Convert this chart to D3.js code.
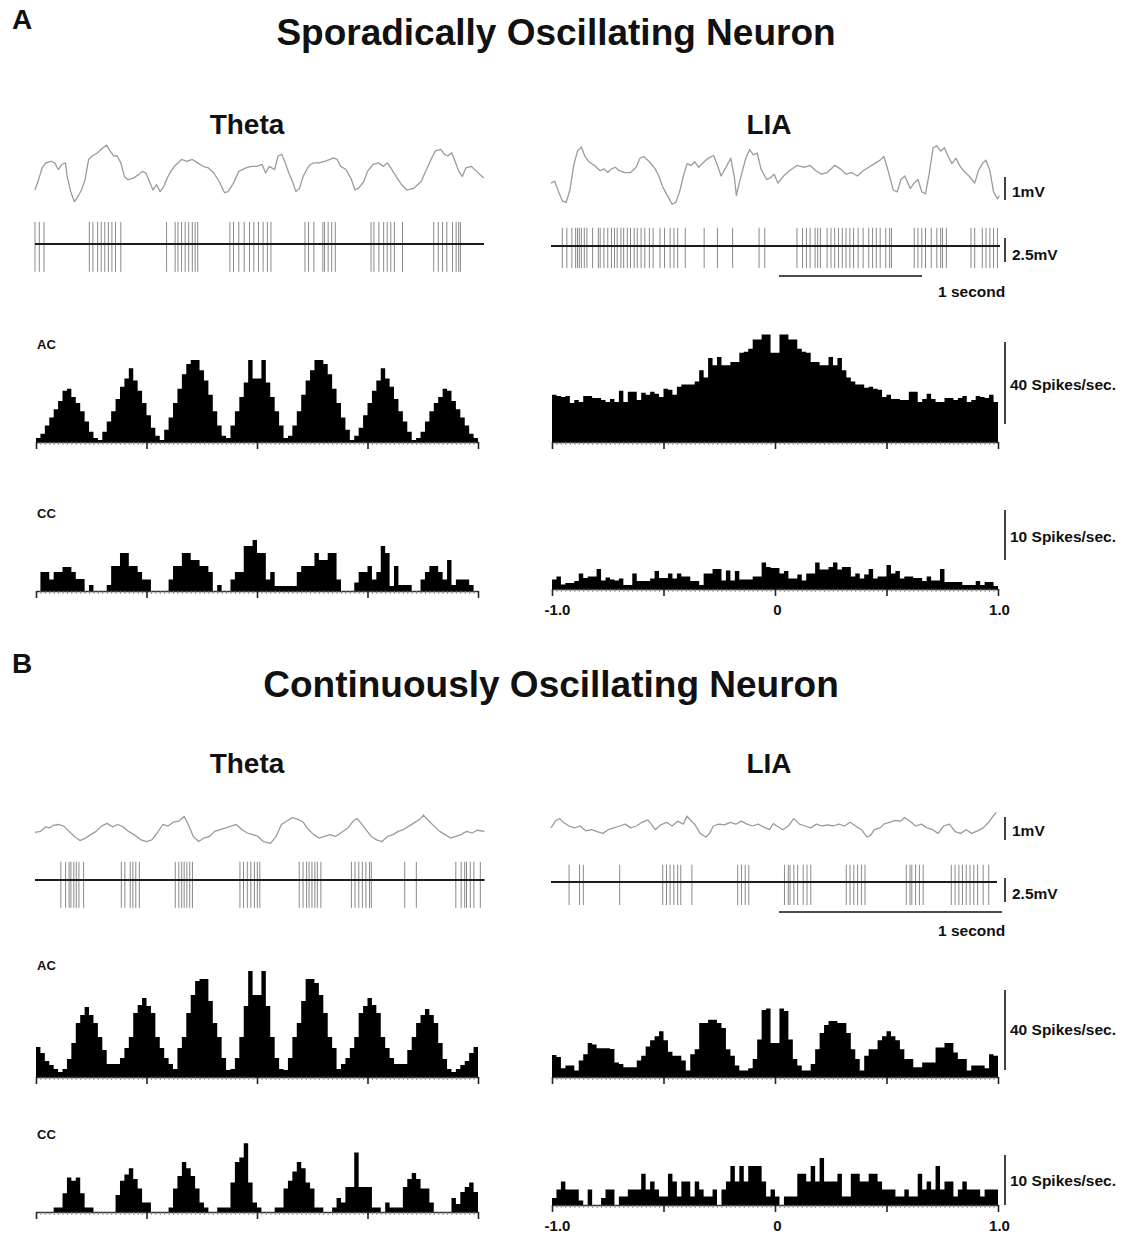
<!DOCTYPE html>
<html><head><meta charset="utf-8">
<script src="https://cdn.jsdelivr.net/npm/d3@7"></script>
<style>
body{margin:0;background:#fff;}
svg text{font-family:"Liberation Sans",Arial,Helvetica,sans-serif;font-weight:bold;fill:#111;}
</style></head><body>
<script>
// ---------- Panel A: sporadically oscillating neuron ----------
// field potential traces: [time (s), voltage (mV)]
const lfpThetaA = [[0,-0.74],[0.025,-0.29],[0.05,0.22],[0.075,0.44],[0.113,0.51],[0.138,0.44],[0.163,0.15],[0.188,0.37],[0.213,0.44],[0.225,-0.15],[0.25,-0.81],[0.275,-1.25],[0.3,-1.03],[0.325,-0.74],[0.35,-0.29],[0.375,0.59],[0.4,0.74],[0.438,0.88],[0.475,1.1],[0.5,1.21],[0.525,0.96],[0.55,0.74],[0.575,0.74],[0.6,0.44],[0.625,-0.15],[0.65,-0.29],[0.688,-0.22],[0.725,-0.07],[0.75,0.07],[0.775,0],[0.8,-0.37],[0.825,-0.74],[0.85,-0.51],[0.875,-0.81],[0.9,-0.59],[0.925,-0.22],[0.95,0.07],[0.975,0.29],[1.025,0.59],[1.063,0.51],[1.1,0.59],[1.138,0.44],[1.175,0.29],[1.213,0.22],[1.25,0],[1.288,-0.37],[1.325,-0.85],[1.35,-0.81],[1.388,-0.44],[1.425,0.07],[1.475,0.22],[1.513,0.29],[1.55,0.29],[1.588,0.37],[1.613,0],[1.638,0.29],[1.675,0.15],[1.7,0.74],[1.725,0.81],[1.75,0.44],[1.775,0],[1.8,-0.37],[1.825,-0.81],[1.85,-0.66],[1.875,-0.15],[1.9,0.15],[1.925,0.37],[1.95,0.44],[1.988,0.44],[2.025,0.51],[2.063,0.59],[2.088,0.66],[2.113,0.59],[2.138,0.29],[2.175,0.15],[2.213,-0.29],[2.238,-0.74],[2.263,-0.66],[2.3,-0.37],[2.325,0.07],[2.363,0.37],[2.4,0.44],[2.438,0.29],[2.463,0.44],[2.488,0.22],[2.525,-0.15],[2.563,-0.51],[2.6,-0.74],[2.65,-0.66],[2.7,-0.37],[2.738,0.15],[2.775,0.66],[2.8,0.96],[2.838,1.03],[2.863,0.81],[2.888,0.74],[2.913,0.88],[2.938,0.51],[2.963,0.07],[2.988,-0.15],[3.013,0.22],[3.05,0.29],[3.088,0.07],[3.138,-0.22]];
const lfpLIAA = [[0,-0.31],[0.026,-0.23],[0.053,-0.69],[0.079,-1.08],[0.106,-1.15],[0.132,-0.62],[0.159,0.46],[0.185,1.08],[0.212,1.26],[0.238,0.85],[0.265,0.62],[0.304,0.46],[0.344,0.23],[0.37,0.31],[0.397,0.15],[0.423,0.31],[0.45,0.38],[0.476,0.23],[0.516,0.15],[0.556,0.15],[0.595,0.38],[0.622,0.77],[0.648,0.85],[0.688,0.62],[0.728,0.31],[0.754,0],[0.78,-0.46],[0.82,-0.92],[0.847,-1.23],[0.873,-1.15],[0.899,-0.69],[0.926,0],[0.952,0.54],[0.979,0.46],[1.005,0.62],[1.032,0.38],[1.058,0.54],[1.098,0.77],[1.138,0.89],[1.164,0.46],[1.19,0],[1.217,0.31],[1.257,0.77],[1.283,-0.08],[1.296,-0.85],[1.323,-0.15],[1.362,0.77],[1.389,1.15],[1.415,0.92],[1.442,1.0],[1.468,0.31],[1.508,-0.15],[1.534,-0.08],[1.561,0.08],[1.587,-0.31],[1.627,0],[1.667,0.23],[1.72,0.46],[1.772,0.38],[1.812,0.46],[1.852,0.23],[1.892,0.08],[1.931,0.15],[1.984,0.46],[2.024,0.31],[2.063,0.08],[2.103,0.15],[2.143,0],[2.183,0.23],[2.222,0.38],[2.262,0.54],[2.302,0.69],[2.328,0.85],[2.354,0.31],[2.394,-0.62],[2.421,-0.69],[2.447,-0.15],[2.474,0],[2.513,-0.54],[2.54,-0.31],[2.566,-0.15],[2.593,-0.69],[2.619,-0.77],[2.646,0.15],[2.672,1.23],[2.698,1.31],[2.725,1.08],[2.751,1.23],[2.778,0.85],[2.804,0.54],[2.831,0.77],[2.857,0.46],[2.884,0.23],[2.923,0],[2.963,-0.31],[2.989,0.23],[3.016,0.54],[3.042,0.69],[3.069,0.23],[3.095,-0.69],[3.122,-1.0],[3.135,-0.85]];
// unit spike times (s)
const spikesThetaA = [0,0.03,0.063,0.38,0.405,0.438,0.463,0.488,0.513,0.538,0.563,0.6,0.92,0.98,1.0,1.025,1.05,1.075,1.1,1.12,1.138,1.363,1.388,1.425,1.463,1.5,1.53,1.563,1.595,1.625,1.65,1.888,1.913,1.95,2.013,2.025,2.05,2.075,2.1,2.35,2.37,2.405,2.438,2.463,2.488,2.513,2.57,2.788,2.82,2.85,2.88,2.92,2.945,2.963,2.975];
const spikesLIAA = [0.079,0.111,0.146,0.172,0.185,0.198,0.212,0.233,0.251,0.291,0.331,0.344,0.37,0.397,0.423,0.444,0.463,0.489,0.508,0.534,0.556,0.582,0.603,0.63,0.656,0.688,0.714,0.762,0.794,0.833,0.86,0.886,0.939,1.071,1.164,1.27,1.455,1.495,1.72,1.759,1.786,1.812,1.847,1.865,1.884,1.931,1.958,1.984,2.011,2.037,2.063,2.09,2.116,2.148,2.183,2.222,2.249,2.275,2.302,2.341,2.368,2.381,2.54,2.566,2.593,2.619,2.659,2.698,2.725,2.738,2.765,2.937,2.963,3.016,3.042,3.069,3.095,3.122];
// spike amplitude [up, down] (mV)
const spikeAmpThetaA = [2.3, 2.9];
const spikeAmpLIAA = [1.9, 2.3];
// correlograms, 100 bins of 20 ms from -1 s to +1 s (spikes/sec)
const acThetaA = [2,4,8,12,16,20,25,26,22,19,15,10,5,2,1,5,10,15,21,27,31,36,30,25,19,13,7,3,1,6,12,19,26,33,38,40,40,35,30,23,15,8,3,2,8,15,22,29,40,31,31,40,29,22,15,8,2,3,8,15,23,30,35,40,40,38,33,26,19,12,6,1,3,7,13,19,25,30,36,31,27,21,15,10,5,1,2,5,10,15,19,22,26,25,20,16,12,8,4,2];
const acLIAA = [23,22.5,22,22.5,19,20.5,19.5,22.5,22.5,21.5,21.5,20.5,19.5,21,19.5,25,19.5,24.5,24.5,20.5,24,23,24.5,23.5,22,26,25.5,23,27,28,28,28,29.5,35,31.5,41,37.5,41.5,37.5,37.5,39,39,43.5,44,45.5,50,50,52.5,52.5,43.5,43.5,52.5,52.5,50,50,45.5,44,43.5,39,39,37.5,37.5,41.5,37.5,41,35,31.5,29.5,28,28,26.5,27,26,25.5,22,23,21,21,20.5,20.5,24.5,24.5,19.5,21,23.5,21,19.5,19.5,21.5,21.5,20.5,21.5,22.5,19.5,20.5,22.5,22,21.5,23,19.5];
const ccThetaA = [0,3.8,3.8,2.3,3.8,3.8,4.8,4.8,3.8,2.4,2.4,0,1.2,0,0,0,1.2,5,5,7.6,7.6,5,5,3.8,2.3,2.3,0,0,0,0,2.3,5,5,7.6,7.6,6.2,6.2,5,5,3.8,0,1.2,0,0,2.3,3.8,3.8,9,9,10.2,7.6,7.6,2.3,3.8,1,1,1,1,1,3.8,5,5,5,7.6,6.2,6.2,7.6,7.6,2.3,0,0,0,1.7,3.8,3.8,5,2.3,3.8,9,7.6,1,5,1.2,1.2,1.2,0,0,2.3,3.8,5,5,3.8,2.3,6.2,1.2,2.3,2.3,2.3,1.2,0];
const ccLIAA = [1.9,2.5,0.9,1.2,1.2,1.6,3.1,2.2,2.5,2.5,4,1.7,2.3,1.9,1.7,2.1,0.8,0.8,3.1,1.6,1.6,1.6,2.1,3.6,2.2,2.2,3.1,2.1,3.1,2.5,2.5,1.6,1.6,0.8,3.1,3.1,4,4,1.7,3.7,1.7,3.6,1.9,1.9,1.9,2.5,2.5,5.3,4.4,4.2,4.2,3.1,3.6,2.1,2.1,2.9,1.7,3.1,3.1,5.3,3.9,3.9,4.4,5.3,3.9,4.4,4.4,2.5,3.1,2.1,2.9,4,2.1,2.5,2.5,4.8,3.1,3.6,2.1,2.5,2.5,2.2,2.2,1.6,2.5,1.7,1.7,4,1.4,1.4,1.4,1.4,0.8,0.8,0.8,1.6,0.8,1.4,1.4,0.6];

// ---------- Panel B: continuously oscillating neuron ----------
const lfpThetaB = [[0,0.03],[0.024,0.07],[0.048,0.27],[0.065,0.22],[0.081,0.33],[0.105,0.37],[0.129,0.3],[0.153,0.07],[0.177,-0.15],[0.202,-0.33],[0.226,-0.22],[0.25,-0.07],[0.274,0.07],[0.298,0.3],[0.323,0.42],[0.347,0.27],[0.371,0.37],[0.395,0.27],[0.419,0.07],[0.444,-0.07],[0.476,-0.3],[0.5,-0.37],[0.524,-0.3],[0.548,0],[0.573,0.37],[0.597,0.3],[0.621,0.48],[0.645,0.52],[0.669,0.72],[0.685,0.42],[0.71,-0.15],[0.734,-0.37],[0.758,-0.22],[0.782,-0.15],[0.806,0.07],[0.831,0.15],[0.855,0.22],[0.879,0.3],[0.903,0.37],[0.927,0.15],[0.952,0],[0.976,-0.07],[1.0,-0.15],[1.024,-0.37],[1.056,-0.45],[1.081,-0.15],[1.105,0.37],[1.129,0.52],[1.153,0.67],[1.177,0.6],[1.202,0.48],[1.226,0.15],[1.25,-0.07],[1.274,-0.22],[1.298,-0.15],[1.323,-0.07],[1.347,-0.15],[1.371,0],[1.403,0.22],[1.427,0.52],[1.444,0.63],[1.46,0.45],[1.484,0.15],[1.508,-0.15],[1.532,-0.3],[1.556,-0.37],[1.581,-0.15],[1.605,-0.07],[1.629,0.07],[1.653,0.15],[1.677,0.3],[1.702,0.45],[1.726,0.6],[1.742,0.78],[1.766,0.52],[1.79,0.3],[1.815,0.07],[1.839,-0.07],[1.863,-0.22],[1.887,-0.15],[1.911,-0.07],[1.935,0.07],[1.96,0],[1.984,0.12],[2.016,0.07]];
const lfpLIAB = [[0,-0.08],[0.022,0.24],[0.039,0.32],[0.055,0.16],[0.081,0],[0.106,-0.08],[0.131,0],[0.156,-0.21],[0.182,-0.16],[0.207,-0.24],[0.232,-0.32],[0.257,-0.16],[0.282,-0.08],[0.308,0],[0.333,0.08],[0.358,-0.08],[0.383,0],[0.408,0.16],[0.434,0.27],[0.45,0.08],[0.467,-0.16],[0.492,0.05],[0.518,0.16],[0.543,0],[0.568,0.21],[0.593,0.08],[0.61,0.43],[0.627,0.24],[0.644,0.08],[0.669,-0.32],[0.694,-0.48],[0.711,-0.32],[0.728,0],[0.753,0.08],[0.778,0.05],[0.803,0.16],[0.829,0.08],[0.854,0.21],[0.879,0.08],[0.904,0],[0.929,0.08],[0.955,-0.05],[0.98,-0.16],[0.997,0.11],[1.013,0],[1.039,-0.16],[1.064,0],[1.089,0.32],[1.114,0.08],[1.139,0],[1.165,-0.08],[1.19,0.08],[1.215,0],[1.24,0.05],[1.266,0],[1.291,0.08],[1.316,0],[1.341,0.16],[1.366,0],[1.392,-0.16],[1.417,-0.48],[1.434,-0.4],[1.45,-0.16],[1.476,-0.08],[1.492,0.08],[1.518,0.16],[1.543,0.24],[1.568,0.21],[1.585,0.37],[1.61,0.21],[1.635,0],[1.661,0.08],[1.686,-0.08],[1.711,-0.16],[1.736,-0.32],[1.761,0],[1.787,0.08],[1.812,-0.24],[1.837,-0.32],[1.862,-0.16],[1.887,-0.32],[1.913,-0.21],[1.938,-0.08],[1.963,0.16],[1.98,0.4],[1.997,0.59]];
const spikesThetaB = [0.116,0.137,0.153,0.161,0.174,0.185,0.197,0.218,0.387,0.403,0.427,0.439,0.452,0.468,0.629,0.645,0.658,0.669,0.681,0.694,0.706,0.919,0.935,0.952,0.968,0.984,0.997,1.008,1.185,1.202,1.218,1.229,1.242,1.255,1.266,1.282,1.419,1.435,1.452,1.468,1.484,1.5,1.508,1.658,1.71,1.887,1.911,1.927,1.935,1.952,1.968,1.997];
const spikesLIAB = [0.081,0.128,0.145,0.308,0.501,0.518,0.534,0.551,0.568,0.582,0.632,0.837,0.854,0.871,0.887,1.047,1.064,1.072,1.089,1.106,1.131,1.148,1.165,1.324,1.341,1.358,1.375,1.392,1.408,1.593,1.61,1.618,1.635,1.652,1.669,1.795,1.812,1.829,1.845,1.862,1.879,1.896,1.913,1.938,1.963];
const spikeAmpThetaB = [1.9, 2.9];
const spikeAmpLIAB = [1.8, 2.4];
const acThetaB = [15,12,8,6,4,2.5,4,9,17,27,31,35,31,27,20,13.5,6.5,6.5,6.5,9.5,14.5,20,32,36,39.5,35.5,32,20,14.5,9.5,6.5,4,14.5,20,32,41,48,49,49,38,27,20,9.5,3.5,4,9.5,20,35.5,53,41,41,53,35.5,20,9.5,4,3.5,9.5,20,27,38,49,49,47,41,32,20,14.5,4,6.5,9.5,14.5,20,32,35.5,39.5,36,32,20,14.5,9.5,6.5,6.5,6.5,13.5,20,27,31,34,31,27,17,9,4,2.5,4,6,8,12,15];
const acLIAB = [11,10,4.4,5.7,5.7,3.3,8.2,11.4,17,16.3,14.4,14.4,14.4,14,7.3,6.5,4.9,4.9,4.9,8.2,10.6,15.2,18.4,20.4,22.9,18.4,12.6,10.6,10.6,8.2,3.3,11.4,13.9,27,27,28.6,28.6,27,24.5,13.9,10.6,5.7,3.3,3.3,4.4,9,18.8,33.5,34.3,17,17,34.3,33,18.8,9,5.7,3.3,3.3,6.5,13.9,22,26,28,28,27,27,22,13.9,9,3.3,10.6,13.9,13.9,18.4,20.4,22.9,20.4,18.4,13.9,9,9,4.9,4.9,7.3,7.3,7.3,14.7,14.7,17,17,12.2,9,9,3.3,5.7,5.7,5.7,4.4,11.4,10.6];
const ccThetaB = [0,0,0,0,0.9,0.9,3.75,6.9,6.25,6.9,3.75,0.9,0.9,0,0,0,0,0,3.4,6.25,7.5,8.75,6.6,4.7,1.9,1.9,0,0,0,0,0.9,4.7,7.2,10,8.75,7.2,4.7,1.9,0.9,0,0,0.9,0.9,0.9,5.9,10,10.9,13.75,5.9,1.9,0.9,0,0,0,0.9,0.9,4.7,6.25,8.1,10,8.75,5.9,4.7,0.9,0.9,0,0,0.9,2.8,1.9,5,5,11.9,5,5,5,0.9,0.9,0,1.9,0.9,0.9,0.9,5,6.6,7.8,6.6,4.7,4.7,1.9,0,0,0,0,2.8,1.6,4,5,5.9,4];
const ccLIAB = [1.4,3.1,4.7,3.1,3.1,3.1,0.9,0,3.1,0,0,1.4,3.1,3.1,0,1.7,1.7,3.1,3.1,3.1,6.25,3.1,4.7,3.1,1.7,1.7,6.25,4.7,1.7,4.7,4.7,1.7,4.7,3.1,1.7,1.7,3.1,0,3.1,4.7,7.8,4.7,7.8,4.7,7.8,7.8,7.8,4.7,1.7,3.1,1.7,0,1.7,1.7,1.7,6.25,6.25,4.7,7.8,4.7,9.4,4.7,4.7,4.7,6.25,1.7,1.7,6.25,6.25,4.7,4.7,6.25,6.25,4.7,3.1,3.1,3.1,1.7,1.7,3.1,1.7,1.7,6.25,3.1,4.7,3.1,7.8,3.1,4.7,4.7,1.7,3.1,4.7,3.1,3.1,3.1,1.7,3.1,3.1,3.1];

// lag axis tick labels
const lagTicks = [-1, -0.5, 0, 0.5, 1];
const lagLabels = {"-1": "-1.0", "0": "0", "1": "1.0"};

// ---------- drawing ----------
const svg = d3.select("body").append("svg").attr("width", 1132).attr("height", 1237);

function text(x, y, s, size, anchor) {
  svg.append("text").attr("x", x).attr("y", y).attr("font-size", size)
    .attr("text-anchor", anchor || "start").text(s);
}

function drawLFP(data, x0, y0, pxPerSec, pxPerMV) {
  const x = d3.scaleLinear().domain([0, 1]).range([x0, x0 + pxPerSec]);
  const y = d3.scaleLinear().domain([0, 1]).range([y0, y0 - pxPerMV]);
  svg.append("path").datum(data)
    .attr("d", d3.line().x(d => x(d[0])).y(d => y(d[1])))
    .attr("fill", "none").attr("stroke", "#9b9b9b").attr("stroke-width", 1.3)
    .attr("stroke-linejoin", "round");
}

function drawSpikes(times, amp, x0, y0, pxPerSec, pxPerMV, dur) {
  const x = d3.scaleLinear().domain([0, 1]).range([x0, x0 + pxPerSec]);
  const y = d3.scaleLinear().domain([0, 1]).range([y0, y0 - pxPerMV]);
  svg.append("g").selectAll("line").data(times).join("line")
    .attr("x1", d => x(d)).attr("x2", d => x(d))
    .attr("y1", y(amp[0])).attr("y2", y(-amp[1]))
    .attr("stroke", "#8a8a8a").attr("stroke-width", 1);
  svg.append("line").attr("x1", x(0)).attr("x2", x(dur)).attr("y1", y0).attr("y2", y0)
    .attr("stroke", "#1c1c1c").attr("stroke-width", 2.2);
}

function drawHist(vals, x0, x1, base, pxPerUnit, labelled) {
  const x = d3.scaleLinear().domain([-1, 1]).range([x0, x1]);
  const y = d3.scaleLinear().domain([0, 1]).range([base, base - pxPerUnit]);
  const w = 2 / vals.length;
  const pts = vals.map((v, i) => [-1 + w * i, v]);
  pts.push([1, vals[vals.length - 1]]);
  svg.append("path").datum(pts)
    .attr("d", d3.area().curve(d3.curveStepAfter).x(d => x(d[0])).y0(base).y1(d => y(d[1])))
    .attr("fill", "#000");
  const minor = svg.append("g").attr("transform", `translate(0,${base})`)
    .call(d3.axisBottom(x).tickValues(d3.range(vals.length + 1).map(i => -1 + w * i))
      .tickSize(3).tickSizeOuter(0).tickFormat(""));
  minor.selectAll("line").attr("stroke", "#777").attr("stroke-width", 0.8);
  minor.select(".domain").attr("stroke", "#333").attr("stroke-width", 1.6);
  const major = svg.append("g").attr("transform", `translate(0,${base})`)
    .call(d3.axisBottom(x).tickValues(lagTicks).tickSize(7).tickSizeOuter(0).tickPadding(8)
      .tickFormat(d => labelled ? (lagLabels[String(d)] || "") : ""));
  major.select(".domain").remove();
  major.selectAll("line").attr("stroke", "#222").attr("stroke-width", 1.6);
  major.selectAll("text").attr("font-size", 15).attr("font-family", "Liberation Sans, Arial, sans-serif")
    .attr("font-weight", "bold").attr("fill", "#111").attr("dx", d => d === 0 ? 2 : (d < 0 ? 5 : 1));
  return y;
}

function vbar(x, yBottom, len) {
  svg.append("line").attr("x1", x).attr("x2", x).attr("y1", yBottom).attr("y2", yBottom - len)
    .attr("stroke", "#111").attr("stroke-width", 1.6);
}
function hbar(x, y, len) {
  svg.append("line").attr("x1", x).attr("x2", x + len).attr("y1", y).attr("y2", y)
    .attr("stroke", "#111").attr("stroke-width", 1.6);
}

const mvLFP = 23, mvUnit = 9.6;
const small = 15.5;

// ----- A -----
text(12, 29, "A", 28);
text(556, 45, "Sporadically Oscillating Neuron", 37, "middle");
text(247, 134, "Theta", 28, "middle");
text(769, 134, "LIA", 28, "middle");

drawLFP(lfpThetaA, 35, 173, 143, mvLFP);
drawLFP(lfpLIAA, 551, 176, 143, mvLFP);
drawSpikes(spikesThetaA, spikeAmpThetaA, 35, 244, 143, mvUnit, 3.14);
drawSpikes(spikesLIAA, spikeAmpLIAA, 551, 246, 143, mvUnit, 3.14);
vbar(1005, 200, mvLFP); text(1012, 197, "1mV", small);
vbar(1005, 262, 2.5 * mvUnit); text(1012, 260, "2.5mV", small);
hbar(779, 276, 143); text(938, 297, "1 second", small);

text(37, 349, "AC", 13);
drawHist(acThetaA, 36, 478, 442, 2.05, false);
drawHist(acLIAA, 552, 998, 442, 2.05, false);
vbar(1005, 424, 40 * 2.05); text(1010, 390, "40 Spikes/sec.", small);

text(37, 518, "CC", 13);
drawHist(ccThetaA, 36, 478, 591, 5, false);
drawHist(ccLIAA, 552, 998, 589, 5, true);
vbar(1005, 560, 10 * 5); text(1010, 542, "10 Spikes/sec.", small);

// ----- B -----
text(12, 673, "B", 28);
text(551, 697, "Continuously Oscillating Neuron", 37, "middle");
text(247, 773, "Theta", 28, "middle");
text(769, 773, "LIA", 28, "middle");

drawLFP(lfpThetaB, 35, 833, 223, mvLFP);
drawLFP(lfpLIAB, 551, 826, 223, mvLFP);
drawSpikes(spikesThetaB, spikeAmpThetaB, 35, 880, 223, mvUnit, 2.016);
drawSpikes(spikesLIAB, spikeAmpLIAB, 551, 882, 223, mvUnit, 2.0);
vbar(1005, 840, mvLFP); text(1012, 836, "1mV", small);
vbar(1005, 902, 2.5 * mvUnit); text(1012, 899, "2.5mV", small);
hbar(779, 912, 223); text(938, 936, "1 second", small);

text(37, 970, "AC", 13);
drawHist(acThetaB, 36, 478, 1077, 2, false);
drawHist(acLIAB, 552, 998, 1077, 2, false);
vbar(1005, 1070, 40 * 2); text(1010, 1035, "40 Spikes/sec.", small);

text(37, 1139, "CC", 13);
drawHist(ccThetaB, 36, 478, 1212, 5, false);
drawHist(ccLIAB, 552, 998, 1205, 5, true);
vbar(1005, 1205, 10 * 5); text(1010, 1186, "10 Spikes/sec.", small);
</script>
</body></html>
